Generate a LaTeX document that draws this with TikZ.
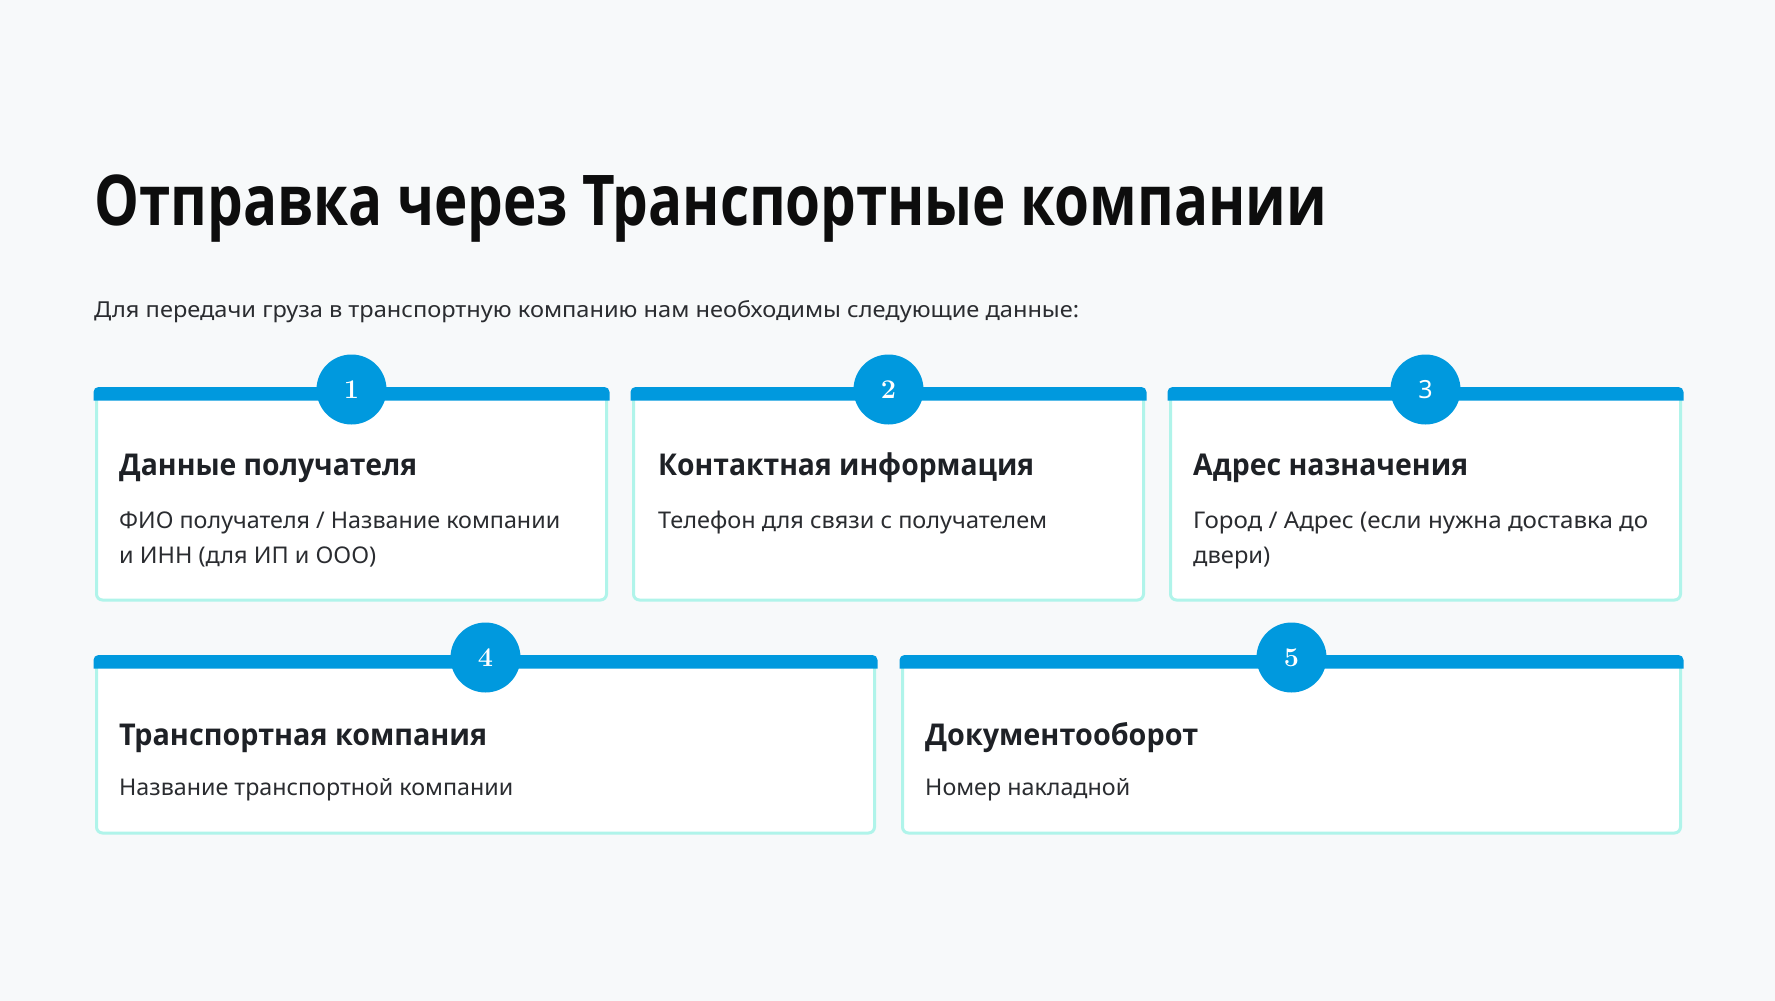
\documentclass[tikz,border=0pt]{standalone}
\usepackage{fontspec}
\usepackage{graphicx}
\newfontfamily\nsans{Noto Sans}
\newfontfamily\bsans{Open Sans}
\newfontfamily\lmserif{Latin Modern Roman}
\definecolor{bgc}{HTML}{F7F9FA}
\definecolor{barblue}{HTML}{0099DE}
\definecolor{cardline}{HTML}{B0F4EA}
\definecolor{titlec}{HTML}{0D0D0D}
\definecolor{headc}{HTML}{1E2126}
\definecolor{descc}{HTML}{2A2C30}
\newcommand{\fitw}[2]{\resizebox{#1}{\height}{#2}}
\tikzset{
  cardbox/.style={draw=cardline, line width=3pt, fill=white, rounded corners=6pt,
    anchor=north west, inner sep=0pt},
  numcirc/.style={circle, fill=barblue, minimum size=70pt, inner sep=0pt, text=white},
  txt/.style={anchor=base west, inner sep=0pt},
  ttl/.style={txt, text=titlec, font=\bsans\bfseries\fontsize{70}{80}\selectfont},
  sub/.style={txt, text=descc, font=\nsans\fontsize{22}{26}\selectfont},
  head/.style={txt, text=headc, font=\bsans\bfseries\fontsize{30}{34}\selectfont},
  desc/.style={txt, text=descc, font=\nsans\fontsize{23}{28}\selectfont},
}
\newcommand{\topbar}[1]{%
  \fill[barblue] ([xshift=-1.5pt,yshift=-12pt]#1.north west) [rounded corners=5pt]
    -- ([xshift=-1.5pt,yshift=1.5pt]#1.north west) -- ([xshift=1.5pt,yshift=1.5pt]#1.north east)
    [sharp corners] -- ([xshift=1.5pt,yshift=-12pt]#1.north east) -- cycle;}
\begin{document}
\begin{tikzpicture}[x=1pt,y=-1pt]
\fill[bgc] (0,0) rectangle (1775,1001);
\useasboundingbox (0,0) rectangle (1775,1001);

\node[ttl] (title) at (94,225) {\fitw{1233pt}{Отправка через Транспортные компании}};
\node[sub] (subtitle) at (94,317) {\fitw{985pt}{Для передачи груза в транспортную компанию нам необходимы следующие данные:}};

% cards row 1
\node[cardbox, minimum width=510pt, minimum height=210pt] (card1) at (95,388.5) {};
\node[cardbox, minimum width=510pt, minimum height=210pt] (card2) at (632,388.5) {};
\node[cardbox, minimum width=510pt, minimum height=210pt] (card3) at (1169,388.5) {};
% cards row 2
\node[cardbox, minimum width=778pt, minimum height=175pt] (card4) at (95,656.5) {};
\node[cardbox, minimum width=778pt, minimum height=175pt] (card5) at (901,656.5) {};

\topbar{card1}\topbar{card2}\topbar{card3}\topbar{card4}\topbar{card5}

\node[numcirc, font=\lmserif\bfseries\fontsize{27}{30}\selectfont] (n1) at ([yshift=-1pt]card1.north) {1};
\node[numcirc, font=\lmserif\bfseries\fontsize{27}{30}\selectfont] (n2) at ([yshift=-1pt]card2.north) {2};
\node[numcirc, font=\nsans\fontsize{25}{30}\selectfont] (n3) at ([yshift=-1pt]card3.north) {3};
\node[numcirc, font=\lmserif\bfseries\fontsize{27}{30}\selectfont] (n4) at ([yshift=-1pt]card4.north) {4};
\node[numcirc, font=\lmserif\bfseries\fontsize{27}{30}\selectfont] (n5) at ([yshift=-1pt]card5.north) {5};

% card texts row 1
\node[head] (h1) at (119,475) {\fitw{298pt}{Данные получателя}};
\node[desc] (d1a) at (119,528) {\fitw{441pt}{ФИО получателя / Название компании}};
\node[desc] (d1b) at (119,563) {\fitw{257pt}{и ИНН (для ИП и ООО)}};

\node[head] (h2) at (658,475) {\fitw{376pt}{Контактная информация}};
\node[desc] (d2a) at (658,528) {\fitw{389pt}{Телефон для связи с получателем}};

\node[head] (h3) at (1193,475) {\fitw{275pt}{Адрес назначения}};
\node[desc] (d3a) at (1193,528) {\fitw{455pt}{Город / Адрес (если нужна доставка до}};
\node[desc] (d3b) at (1193,563) {\fitw{77pt}{двери)}};

% card texts row 2
\node[head] (h4) at (119,745) {\fitw{368pt}{Транспортная компания}};
\node[desc] (d4a) at (119,795) {\fitw{394pt}{Название транспортной компании}};

\node[head] (h5) at (925,745) {\fitw{273pt}{Документооборот}};
\node[desc] (d5a) at (925,795) {\fitw{205pt}{Номер накладной}};
\end{tikzpicture}
\end{document}
